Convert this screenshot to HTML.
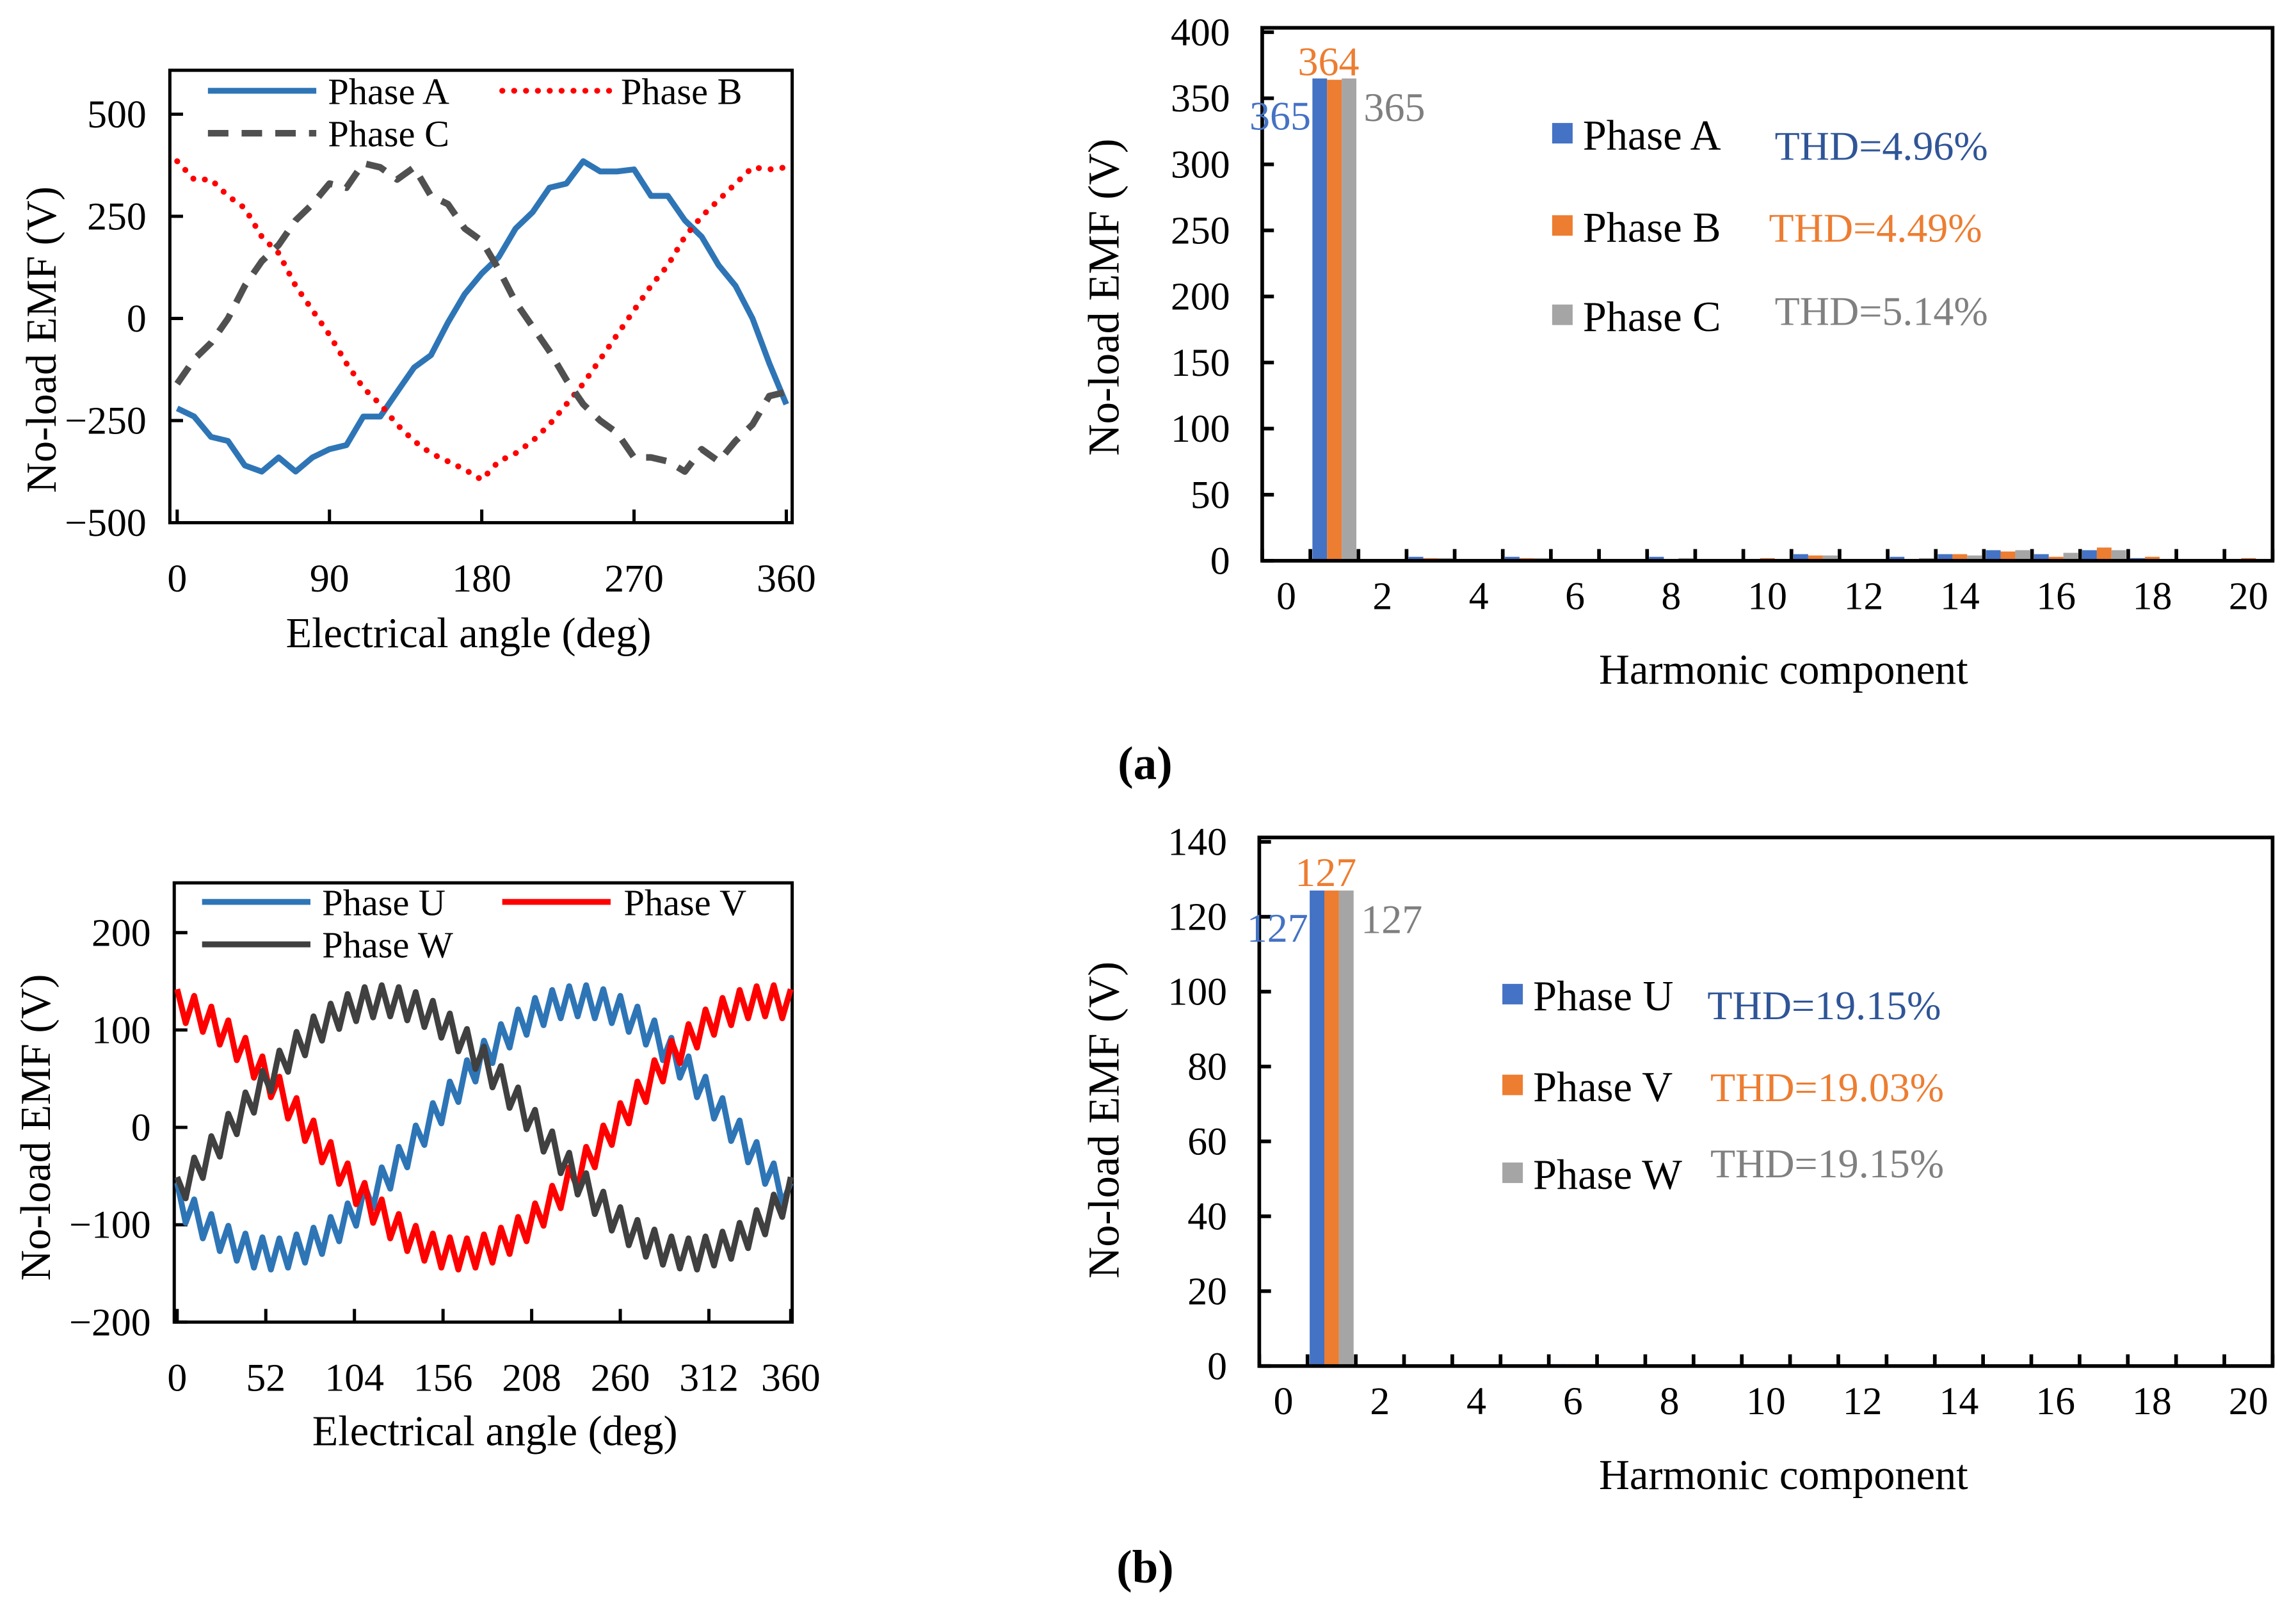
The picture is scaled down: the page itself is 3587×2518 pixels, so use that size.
<!DOCTYPE html>
<html><head><meta charset="utf-8"><style>
html,body{margin:0;padding:0;background:#fff}
svg{display:block}
text{font-family:"Liberation Serif",serif}
</style></head><body>
<svg id="root" xmlns="http://www.w3.org/2000/svg" width="3587" height="2518" viewBox="0 0 1568 1101" preserveAspectRatio="none">
<rect width="1568" height="1101" fill="#fff"/>
<text x="782" y="532" font-size="32" font-weight="bold" text-anchor="middle">(a)</text>
<text x="782" y="1081" font-size="32" font-weight="bold" text-anchor="middle">(b)</text>
</svg>
<script>
// ===== data =====
const angA = [0,10,20,30,40,50,60,70,80,90,100,110,120,130,140,150,160,170,180,190,200,210,220,230,240,250,260,270,280,290,300,310,320,330,340,350,360];
const phaseA = [-220,-240,-290,-300,-360,-375,-340,-375,-340,-320,-310,-240,-240,-180,-120,-90,-10,60,110,150,220,260,320,330,385,360,360,365,300,300,240,200,130,80,0,-110,-210];
const phaseB = [385,340,340,300,270,200,160,80,20,-40,-110,-170,-210,-260,-300,-330,-350,-370,-395,-350,-330,-300,-260,-210,-160,-100,-40,20,80,130,200,250,290,330,370,365,370];
const phaseC = [-160,-100,-60,0,80,140,180,240,280,330,320,380,370,340,370,300,280,220,190,120,40,-20,-80,-150,-210,-250,-280,-340,-340,-350,-375,-320,-350,-300,-260,-190,-180];
const ticksYA = [500,250,0,-250,-500];
const ticksXA = [0,90,180,270,360];

const phaseU = [-57,-98,-74,-114,-89,-127,-101,-137,-109,-144,-113,-146,-114,-144,-110,-139,-103,-130,-92,-117,-78,-101,-60,-83,-41,-63,-20,-41,2,-18,25,4,47,26,69,47,89,66,106,82,121,95,133,105,141,112,145,114,146,112,142,107,135,98,124,85,110,69,92,51,73,31,52,9,30,-14,7,-36,-15,-58,-37,-79,-57];
const phaseV = [142,107,135,98,124,85,110,69,92,51,73,31,52,9,30,-14,7,-36,-15,-58,-37,-79,-57,-98,-74,-114,-89,-127,-101,-137,-109,-144,-113,-146,-114,-144,-110,-139,-103,-130,-92,-117,-78,-101,-60,-83,-41,-63,-20,-41,2,-18,25,4,47,26,69,47,89,66,106,82,121,95,133,105,141,112,145,114,146,112,142];
const phaseW = [-51,-73,-31,-52,-9,-30,14,-7,36,15,58,37,79,57,98,74,114,89,127,101,137,109,144,113,146,114,144,110,139,103,130,92,117,78,101,60,83,41,63,20,41,-2,18,-25,-4,-47,-26,-69,-47,-89,-66,-106,-82,-121,-95,-133,-105,-141,-112,-145,-114,-146,-112,-142,-107,-135,-98,-124,-85,-110,-69,-92,-51];
const angStepB = 5;
const ticksYB = [200,100,0,-100,-200];
const ticksXB = [0,52,104,156,208,260,312,360];

const harmonics = [0,1,2,3,4,5,6,7,8,9,10,11,12,13,14,15,16,17,18,19,20];
const barA = [0,365,0,3,1,3,1,1,3,1,1,5,0,3,5,8,5,8,2,1,1];
const barB = [0,364,1,2,0,2,1,1,0,0,2,4,0,1,5,7,3,10,3,0,2];
const barC = [0,365,0,2,0,2,0,0,2,0,0,4,0,2,4,8,6,8,0,0,0];
const barU = [0,127,0,0,0,0,0.5,0,0,0,0,0,0,0,0,0,0,0,0,0,0];
const barV = [0,127,0,0,0,0,0.5,0,0,0,0,0,0,0,0,0,0,0,0,0,0];
const barW = [0,127,0,0,0,0,0.5,0,0,0,0,0,0,0,0,0,0,0,0,0,0];
const ticksYBarA = [0,50,100,150,200,250,300,350,400];
const ticksYBarB = [0,20,40,60,80,100,120,140];
const ticksXBar = [0,2,4,6,8,10,12,14,16,18,20];

// ===== helpers =====
const NS = "http://www.w3.org/2000/svg";
const root = document.getElementById('root');
function mk(tag, attrs, parent, txt){
  const e = document.createElementNS(NS, tag);
  for (const k in attrs) e.setAttribute(k, attrs[k]);
  if (txt !== undefined) e.textContent = txt;
  (parent || root).appendChild(e);
  return e;
}
function group(name){
  const g = document.createElementNS(NS,'g');
  
  
  root.appendChild(g);
  return g;
}

// ===== line chart =====
function lineChart(cfg){
  const g = group(cfg.name);
  const sx = v => cfg.x0 + (v - cfg.xmin) / (cfg.xmax - cfg.xmin) * (cfg.x1 - cfg.x0);
  const sy = v => cfg.y0 + (cfg.ymax - v) / (cfg.ymax - cfg.ymin) * (cfg.y1 - cfg.y0);
  const f = mk('rect', {x:cfg.bx0, y:cfg.by0, width:cfg.bx1-cfg.bx0, height:cfg.by1-cfg.by0, fill:'none', stroke:'#000', 'stroke-width':2.2}, g);
  
  
  cfg.ticksY.forEach(v => {
    const y = sy(v);
    const t = mk('line', {x1:cfg.bx0, x2:cfg.bx0+9, y1:y, y2:y, stroke:'#000', 'stroke-width':2.2}, g);
    
    
    const l = mk('text', {x:cfg.bx0-16, y:y+9, 'font-size':27, 'text-anchor':'end'}, g, v < 0 ? '\u2212' + (-v) : String(v));
    
    
  });
  cfg.ticksX.forEach(v => {
    const x = sx(v);
    const t = mk('line', {x1:x, x2:x, y1:cfg.by1, y2:cfg.by1-9, stroke:'#000', 'stroke-width':2.2}, g);
    
    
    const l = mk('text', {x:x, y:cfg.by1+47, 'font-size':27, 'text-anchor':'middle'}, g, String(v));
    
    
  });
  const yt = mk('text', {x:0, y:0, 'font-size':29, 'text-anchor':'middle', transform:`translate(${cfg.ytx},${cfg.yty}) rotate(-90)`}, g, 'No-load EMF (V)');
  
  
  const xt = mk('text', {x:cfg.xtx, y:cfg.xty, 'font-size':29, 'text-anchor':'middle'}, g, 'Electrical angle (deg)');
  
  
  cfg.series.forEach(s => {
    const pts = s.vals.map((v,i) => sx(s.xs ? s.xs[i] : i*s.step).toFixed(1) + ',' + sy(v).toFixed(1)).join(' ');
    const p = mk('polyline', {points:pts, fill:'none', stroke:s.color, 'stroke-width':s.w, 'stroke-dasharray':s.dash||'none', 'stroke-linecap':s.cap||'butt', 'stroke-linejoin':'round'}, g);
    
    
    const lg = mk('line', {x1:s.lx, x2:s.lx+74, y1:s.ly, y2:s.ly, stroke:s.color, 'stroke-width':s.w, 'stroke-dasharray':s.dash||'none', 'stroke-linecap':s.cap||'butt'}, g);
    
    
    const lt = mk('text', {x:s.tx, y:s.ly+9, 'font-size':25.5}, g, s.label);
    
    
  });
}

lineChart({name:'emf-chart-a', bx0:116, bx1:541, by0:48, by1:357,
  x0:121, x1:537, xmin:0, xmax:360, y0:78, y1:357, ymin:-500, ymax:500,
  ticksY:ticksYA, ticksX:ticksXA, ytx:38, yty:232, xtx:320, xty:442,
  series:[
    {name:'phase-a-line', vals:phaseA, xs:angA, color:'#2E75B6', w:4, lx:142, ly:62, tx:224, label:'Phase A'},
    {name:'phase-b-line', vals:phaseB, xs:angA, color:'#FF0000', w:4, dash:'0.1 8', cap:'round', lx:343, ly:62, tx:424, label:'Phase B'},
    {name:'phase-c-line', vals:phaseC, xs:angA, color:'#505050', w:4.5, dash:'14 9', lx:142, ly:91, tx:224, label:'Phase C'}
  ]});

lineChart({name:'emf-chart-b', bx0:119, bx1:541, by0:603, by1:903,
  x0:121, x1:540, xmin:0, xmax:360, y0:637, y1:903, ymin:-200, ymax:200,
  ticksY:ticksYB, ticksX:ticksXB, ytx:34, yty:770, xtx:338, xty:987,
  series:[
    {name:'phase-u-line', vals:phaseU, step:angStepB, color:'#2E75B6', w:4, lx:138, ly:616, tx:220, label:'Phase U'},
    {name:'phase-v-line', vals:phaseV, step:angStepB, color:'#FF0000', w:4, lx:343, ly:616, tx:426, label:'Phase V'},
    {name:'phase-w-line', vals:phaseW, step:angStepB, color:'#404040', w:4, lx:138, ly:645, tx:220, label:'Phase W'}
  ]});

// ===== bar chart =====
function barChart(cfg){
  const g = group(cfg.name);
  const n = harmonics.length;
  const cw = (cfg.x1 - cfg.x0) / n;
  const cx = i => cfg.x0 + (i + 0.5) * cw;
  const sy = v => cfg.y0 - v / cfg.ymax * (cfg.y0 - cfg.ytop);
  const cols = ['#4472C4','#ED7D31','#A5A5A5'];
  cfg.series.forEach((s, si) => {
    s.vals.forEach((v, i) => {
      if (v <= 0) return;
      const x = cx(harmonics[i]) - 15 + si * 10;
      const r = mk('rect', {x:x, y:sy(v), width:10, height:cfg.y0 - sy(v), fill:cols[si]}, g);
      
      
    });
  });
  const f = mk('rect', {x:cfg.x0, y:cfg.ytop - 3, width:cfg.x1-cfg.x0, height:cfg.y0-cfg.ytop+3, fill:'none', stroke:'#000', 'stroke-width':2.5}, g);
  
  
  cfg.ticksY.forEach(v => {
    const y = sy(v);
    const t = mk('line', {x1:cfg.x0, x2:cfg.x0+8, y1:y, y2:y, stroke:'#000', 'stroke-width':2.5}, g);
    
    
    const l = mk('text', {x:cfg.x0-22, y:y+9, 'font-size':27, 'text-anchor':'end'}, g, String(v));
    
    
  });
  for (let i = 0; i <= n; i++) {
    const x = cfg.x0 + i * cw;
    const t = mk('line', {x1:x, x2:x, y1:cfg.y0, y2:cfg.y0-8, stroke:'#000', 'stroke-width':2.5}, g);
    
    
  }
  ticksXBar.forEach(v => {
    const l = mk('text', {x:cx(v), y:cfg.y0+33, 'font-size':27, 'text-anchor':'middle'}, g, String(v));
    
    
  });
  const yt = mk('text', {x:0, y:0, 'font-size':30, 'text-anchor':'middle', transform:`translate(${cfg.ytx},${cfg.yty}) rotate(-90)`}, g, 'No-load EMF (V)');
  
  
  const xt = mk('text', {x:1218, y:cfg.y0+84, 'font-size':29, 'text-anchor':'middle'}, g, 'Harmonic component');
  
  
  // value labels
  const h1 = 1;
  const lab = [
    {t:String(cfg.series[0].vals[h1]), x:cx(h1)-16, y:sy(cfg.series[0].vals[h1])+35, a:'end', c:'#4472C4'},
    {t:String(cfg.series[1].vals[h1]), x:cx(h1)-4, y:sy(cfg.series[1].vals[h1])-3, a:'middle', c:'#ED7D31'},
    {t:String(cfg.series[2].vals[h1]), x:cx(h1)+20, y:sy(cfg.series[2].vals[h1])+29, a:'start', c:'#7F7F7F'}
  ];
  lab.forEach(o => {
    const l = mk('text', {x:o.x, y:o.y, 'font-size':28, 'text-anchor':o.a, fill:o.c}, g, o.t);
    
    
  });
  cfg.series.forEach((s, si) => {
    const ly = cfg.legY[si];
    const sq = mk('rect', {x:cfg.legX, y:ly-8, width:14, height:14, fill:cols[si]}, g);
    
    
    const lt = mk('text', {x:cfg.legX+21, y:ly+10, 'font-size':29}, g, s.label);
    
    
    const th = mk('text', {x:cfg.thdX[si], y:cfg.thdY[si], 'font-size':28, fill:['#2F5597','#ED7D31','#808080'][si]}, g, s.thd);
    
    
  });
}

barChart({name:'harmonic-chart-a', x0:862, x1:1552, y0:383, ytop:22, ymax:400,
  ticksY:ticksYBarA, ytx:764, yty:203,
  legX:1060, legY:[92,155,216], thdX:[1212,1208,1212], thdY:[109,165,222],
  series:[{key:'a', vals:barA, label:'Phase A', thd:'THD=4.96%'},
          {key:'b', vals:barB, label:'Phase B', thd:'THD=4.49%'},
          {key:'c', vals:barC, label:'Phase C', thd:'THD=5.14%'}]});

barChart({name:'harmonic-chart-b', x0:860, x1:1552, y0:933, ytop:575, ymax:140,
  ticksY:ticksYBarB, ytx:764, yty:765,
  legX:1026, legY:[680,742,802], thdX:[1166,1168,1168], thdY:[696,752,804],
  series:[{key:'u', vals:barU, label:'Phase U', thd:'THD=19.15%'},
          {key:'v', vals:barV, label:'Phase V', thd:'THD=19.03%'},
          {key:'w', vals:barW, label:'Phase W', thd:'THD=19.15%'}]});
</script>
</body></html>
